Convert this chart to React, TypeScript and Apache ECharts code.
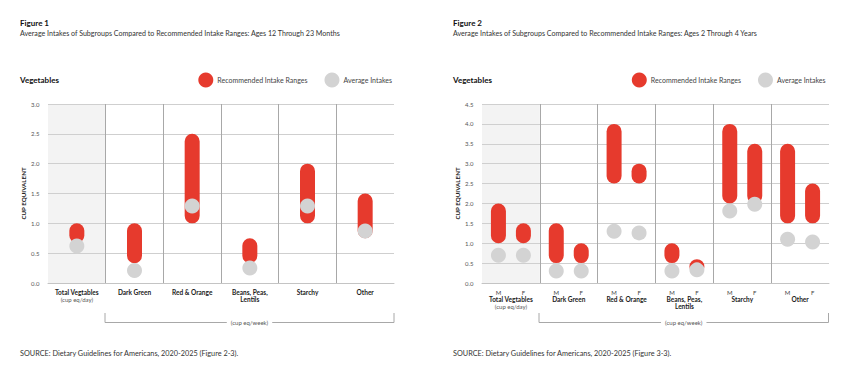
import React, { useEffect, useRef } from 'react';
import * as echarts from 'echarts';

const FONT = 'Lato, "Noto Sans", sans-serif';
const RED = '#e63a2d';
const GREY = '#d3d3d3';
const SHADE = '#f3f3f3';

// Figure 1: Ages 12 through 23 months
const fig1Categories = ['Total Vegtables', 'Dark Green', 'Red & Orange', 'Beans, Peas,\nLentils', 'Starchy', 'Other'];
const fig1RangeLow = [0.67, 0.33, 1.0, 0.33, 1.0, 0.75];
const fig1RangeHigh = [1.0, 1.0, 2.5, 0.75, 2.0, 1.5];
const fig1Average = [0.62, 0.21, 1.29, 0.25, 1.29, 0.87];
const fig1Ticks = { min: 0, max: 3, interval: 0.5 };

// Figure 2: Ages 2 through 4 years (M / F)
const fig2Categories = ['Total Vegtables', 'Dark Green', 'Red & Orange', 'Beans, Peas,\nLentils', 'Starchy', 'Other'];
const fig2MaleLow = [1.0, 0.5, 2.5, 0.5, 2.0, 1.5];
const fig2MaleHigh = [2.0, 1.5, 4.0, 1.0, 4.0, 3.5];
const fig2MaleAverage = [0.7, 0.3, 1.3, 0.3, 1.81, 1.1];
const fig2FemaleLow = [1.0, 0.5, 2.5, 0.5, 2.0, 1.5];
const fig2FemaleHigh = [1.5, 1.0, 3.0, 0.6, 3.5, 2.5];
const fig2FemaleAverage = [0.7, 0.3, 1.26, 0.33, 1.98, 1.03];
const fig2Ticks = { min: 0, max: 4.5, interval: 0.5 };

const titles = [
  { text: 'Figure 1', sub: 'Average Intakes of Subgroups Compared to Recommended Intake Ranges: Ages 12 Through 23 Months' },
  { text: 'Figure 2', sub: 'Average Intakes of Subgroups Compared to Recommended Intake Ranges: Ages 2 Through 4 Years' },
];
const sources = [
  'SOURCE: Dietary Guidelines for Americans, 2020-2025 (Figure 2-3).',
  'SOURCE: Dietary Guidelines for Americans, 2020-2025 (Figure 3-3).',
];
const dailyUnit = '(cup eq/day)';
const weeklyUnit = '(cup eq/week)';
const sectionLabel = 'Vegetables';
const yName = 'CUP EQUIVALENT';
const RANGE_NAME = 'Recommended Intake Ranges';
const AVG_NAME = 'Average Intakes';

const CAP_W = 15;
const DOT_R = 7.5;

function rangeRenderer(offset: number) {
  return (params: any, api: any) => {
    const idx = api.value(0);
    const band = api.size([1, 0])[0];
    const x = api.coord([idx, 0])[0] + offset * band;
    const yHigh = api.coord([idx, api.value(2)])[1];
    const yLow = api.coord([idx, api.value(1)])[1];
    const bottom = Math.max(yLow, yHigh + CAP_W);
    return {
      type: 'rect',
      shape: { x: x - CAP_W / 2, y: yHigh, width: CAP_W, height: bottom - yHigh, r: CAP_W / 2 },
      style: { fill: RED },
    };
  };
}

function dotRenderer(offset: number) {
  return (params: any, api: any) => {
    const idx = api.value(0);
    const band = api.size([1, 0])[0];
    const p = api.coord([idx, api.value(1)]);
    return {
      type: 'circle',
      shape: { cx: p[0] + offset * band, cy: p[1], r: DOT_R },
      style: { fill: GREY },
    };
  };
}

function shadeRenderer(params: any, api: any) {
  const band = api.size([1, 0])[0];
  const x = api.coord([api.value(0), 0])[0];
  const cs = params.coordSys;
  return {
    type: 'rect',
    shape: { x: x - band / 2, y: cs.y, width: band, height: cs.height },
    style: { fill: SHADE },
  };
}

function catLabel(withMF: boolean) {
  return (value: string, index: number) => {
    const lines = value.split('\n').map((l) => `{b|${l}}`);
    if (index === 0) lines.push(`{s|${dailyUnit}}`);
    if (withMF) lines.unshift('{mf|M}{gap|}{mf|F}');
    return lines.join('\n');
  };
}

function makeRich(lh: number) {
  return {
    b: { fontFamily: FONT, fontWeight: 'bold', fontSize: 6.5, color: '#222', lineHeight: lh },
    s: { fontFamily: FONT, fontSize: 6, color: '#555', lineHeight: lh },
    mf: { fontFamily: FONT, fontSize: 6, color: '#444', lineHeight: lh, width: 6, align: 'center' },
    gap: { width: 19, lineHeight: lh },
  };
}

export default function App() {
  const ref = useRef<HTMLDivElement>(null);
  useEffect(() => {
    document.body.style.margin = '0';
    const chart = echarts.init(ref.current!, null, { renderer: 'svg' });

    const xAxisBase = (gridIndex: number, data: string[], withMF: boolean) => ({
      type: 'category',
      gridIndex,
      data,
      z: 3,
      axisTick: { show: false },
      axisLine: { show: true, lineStyle: { color: '#c4c4c4', width: 1 } },
      splitLine: { show: true, showMinLine: false, showMaxLine: false, lineStyle: { color: '#a8a8a8', width: 1 } },
      axisLabel: {
        interval: 0,
        margin: withMF ? 6.5 : 6,
        formatter: catLabel(withMF),
        rich: makeRich(withMF ? 6.6 : 7.3),
      },
    });

    const yAxisBase = (gridIndex: number, t: { min: number; max: number; interval: number }, margin: number) => ({
      type: 'value',
      gridIndex,
      min: t.min,
      max: t.max,
      interval: t.interval,
      z: 3,
      name: yName,
      nameLocation: 'middle',
      nameRotate: 90,
      nameGap: 22,
      nameTextStyle: { fontFamily: FONT, fontWeight: 'bold', fontSize: 6.2, color: '#222' },
      axisLine: { show: false },
      axisTick: { show: false },
      splitLine: { show: true, lineStyle: { color: '#cfcfcf', width: 1 } },
      axisLabel: {
        margin,
        fontFamily: FONT,
        fontSize: 6,
        color: '#555',
        formatter: (v: number) => v.toFixed(1),
      },
    });

    const legendBase = (left: number) => ({
      left,
      top: 72.5,
      padding: 0,
      icon: 'circle',
      itemWidth: 15,
      itemHeight: 15,
      itemGap: 17,
      selectedMode: false,
      textStyle: { fontFamily: FONT, fontSize: 7, color: '#444', padding: [0, 0, 0, -1] },
      data: [
        { name: RANGE_NAME, itemStyle: { color: RED } },
        { name: AVG_NAME, itemStyle: { color: GREY } },
      ],
    });

    const titleBase = (i: number, left: number) => ({
      text: titles[i].text,
      subtext: titles[i].sub,
      left,
      top: 17.5,
      padding: 0,
      itemGap: 2,
      textStyle: { fontFamily: FONT, fontWeight: 'bold', fontSize: 8, color: '#111', lineHeight: 10 },
      subtextStyle: { fontFamily: FONT, fontSize: 7.1, color: '#333', lineHeight: 8 },
    });

    const idx = (arr: number[]) => arr.map((_, i) => i);

    const series: any[] = [];
    // shading of first column
    series.push({ type: 'custom', xAxisIndex: 0, yAxisIndex: 0, z: 1, silent: true, renderItem: shadeRenderer, data: [[0]], encode: { x: 0 } });
    series.push({ type: 'custom', xAxisIndex: 1, yAxisIndex: 1, z: 1, silent: true, renderItem: shadeRenderer, data: [[0]], encode: { x: 0 } });
    // Figure 1
    series.push({
      type: 'custom', name: RANGE_NAME, xAxisIndex: 0, yAxisIndex: 0, z: 10,
      itemStyle: { color: RED }, renderItem: rangeRenderer(0),
      data: idx(fig1RangeLow).map((i) => [i, fig1RangeLow[i], fig1RangeHigh[i]]), encode: { x: 0, y: [1, 2] },
    });
    series.push({
      type: 'custom', name: AVG_NAME, xAxisIndex: 0, yAxisIndex: 0, z: 11,
      itemStyle: { color: GREY }, renderItem: dotRenderer(0),
      data: idx(fig1Average).map((i) => [i, fig1Average[i]]), encode: { x: 0, y: 1 },
    });
    // Figure 2
    const mOff = -0.216;
    const fOff = 0.216;
    series.push({
      type: 'custom', name: RANGE_NAME, xAxisIndex: 1, yAxisIndex: 1, z: 10,
      itemStyle: { color: RED }, renderItem: rangeRenderer(mOff),
      data: idx(fig2MaleLow).map((i) => [i, fig2MaleLow[i], fig2MaleHigh[i]]), encode: { x: 0, y: [1, 2] },
    });
    series.push({
      type: 'custom', name: RANGE_NAME, xAxisIndex: 1, yAxisIndex: 1, z: 10,
      itemStyle: { color: RED }, renderItem: rangeRenderer(fOff),
      data: idx(fig2FemaleLow).map((i) => [i, fig2FemaleLow[i], fig2FemaleHigh[i]]), encode: { x: 0, y: [1, 2] },
    });
    series.push({
      type: 'custom', name: AVG_NAME, xAxisIndex: 1, yAxisIndex: 1, z: 11,
      itemStyle: { color: GREY }, renderItem: dotRenderer(mOff),
      data: idx(fig2MaleAverage).map((i) => [i, fig2MaleAverage[i]]), encode: { x: 0, y: 1 },
    });
    series.push({
      type: 'custom', name: AVG_NAME, xAxisIndex: 1, yAxisIndex: 1, z: 11,
      itemStyle: { color: GREY }, renderItem: dotRenderer(fOff),
      data: idx(fig2FemaleAverage).map((i) => [i, fig2FemaleAverage[i]]), encode: { x: 0, y: 1 },
    });

    const bracket = (x1: number, x2: number) => [
      {
        type: 'polyline',
        shape: { points: [[x1, 313], [x1, 322.5], [x2, 322.5], [x2, 313]] },
        style: { stroke: '#a8a8a8', lineWidth: 1, fill: null },
        silent: true,
      },
      {
        type: 'text',
        x: (x1 + x2) / 2,
        y: 322.5,
        style: {
          text: weeklyUnit, fontFamily: FONT, fontSize: 6, fill: '#555',
          align: 'center', verticalAlign: 'middle', backgroundColor: '#fff', padding: [1, 4],
        },
        silent: true,
      },
    ];

    const textEl = (text: string, x: number, y: number, size: number, bold = false, color = '#222') => ({
      type: 'text', x, y, silent: true,
      style: { text, fontFamily: FONT, fontSize: size, fontWeight: bold ? 'bold' : 'normal', fill: color, verticalAlign: 'middle' },
    });

    chart.setOption({
      animation: false,
      backgroundColor: '#fff',
      title: [titleBase(0, 20), titleBase(1, 453)],
      legend: [legendBase(198.3), legendBase(631.8)],
      grid: [
        { left: 48, top: 104, width: 346, height: 179 },
        { left: 482, top: 104, width: 347, height: 179 },
      ],
      xAxis: [xAxisBase(0, fig1Categories, false), xAxisBase(1, fig2Categories, true)],
      yAxis: [yAxisBase(0, fig1Ticks, 8.5), yAxisBase(1, fig2Ticks, 8.5)],
      series,
      graphic: [
        textEl(sectionLabel, 20, 80, 8, true, '#111'),
        textEl(sectionLabel, 453, 80, 8, true, '#111'),
        ...bracket(105, 394),
        ...bracket(539, 828.5),
        textEl(sources[0], 20, 353, 7.3, false, '#333'),
        textEl(sources[1], 453, 353, 7.3, false, '#333'),
      ],
    });
    return () => chart.dispose();
  }, []);
  return <div ref={ref} style={{ width: 850, height: 373 }} />;
}
